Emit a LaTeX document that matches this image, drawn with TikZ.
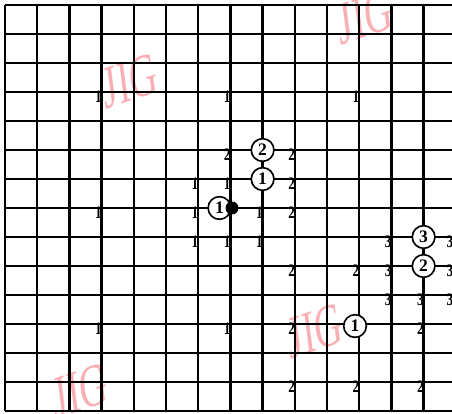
\documentclass[tikz,border=0pt]{standalone}
\usepackage{fontspec}
\setmainfont{Liberation Serif}
\definecolor{jigpink}{RGB}{250,175,180}
\begin{document}
\begin{tikzpicture}[x=0.966cm,y=-0.87cm,line width=2.1pt,
    num/.style={font=\bfseries\fontsize{15}{15}\selectfont,inner sep=0pt,xscale=0.75},
    ring/.style={draw,circle,line width=1.4pt,fill=white,minimum size=0.68cm,
        inner sep=0pt,font=\bfseries\fontsize{15}{15}\selectfont},
    stamp/.style={font=\fontsize{52}{52}\selectfont,text=jigpink,xscale=0.62,rotate=12}]
    \useasboundingbox (-0.155,-0.172) rectangle (13.882,14.103);

    % watermarks
    \node[stamp] (jig1) at (3.88,2.62) {JIG};
    \node[stamp] (jig2) at (11.18,0.4) {JIG};
    \node[stamp] (jig3) at (2.33,13.3) {JIG};
    \node[stamp] (jig4) at (9.63,11.25) {JIG};

    % grid
    \foreach \c in {0,...,13}
        \draw (\c,0) -- (\c,14);
    \foreach \r in {0,...,14}
        \draw (0,\r) -- (13.95,\r);

    % counts at the crossings
    \foreach \c/\r/\v [count=\i] in {
        3/3/1,7/3/1,11/3/1,
        7/5/2,9/5/2,
        6/6/1,7/6/1,9/6/2,
        3/7/1,6/7/1,8/7/1,9/7/2,
        6/8/1,7/8/1,8/8/1,12/8/3,13.92/8/3,
        9/9/2,11/9/2,12/9/3,13.92/9/3,
        12/10/3,13/10/3,13.92/10/3,
        3/11/1,7/11/1,9/11/2,13/11/2,
        9/13/2,11/13/2,13/13/2}{
        \node[num] (num\i) at (\c-0.1,\r+0.17) {\v};
    }

    % circled steps
    \node[ring] (s2a) at (8,5) {2};
    \node[ring] (s1a) at (8,6) {1};
    \node[ring] (s1b) at (6.66,7) {1};
    \node[ring] (s3) at (13,8) {3};
    \node[ring] (s2b) at (13,9) {2};
    \node[ring] (s1c) at (10.87,11.07) {1};
    \node[circle,fill=black,minimum size=0.39cm,inner sep=0pt] (start) at (7.05,7) {};
\end{tikzpicture}
\end{document}
